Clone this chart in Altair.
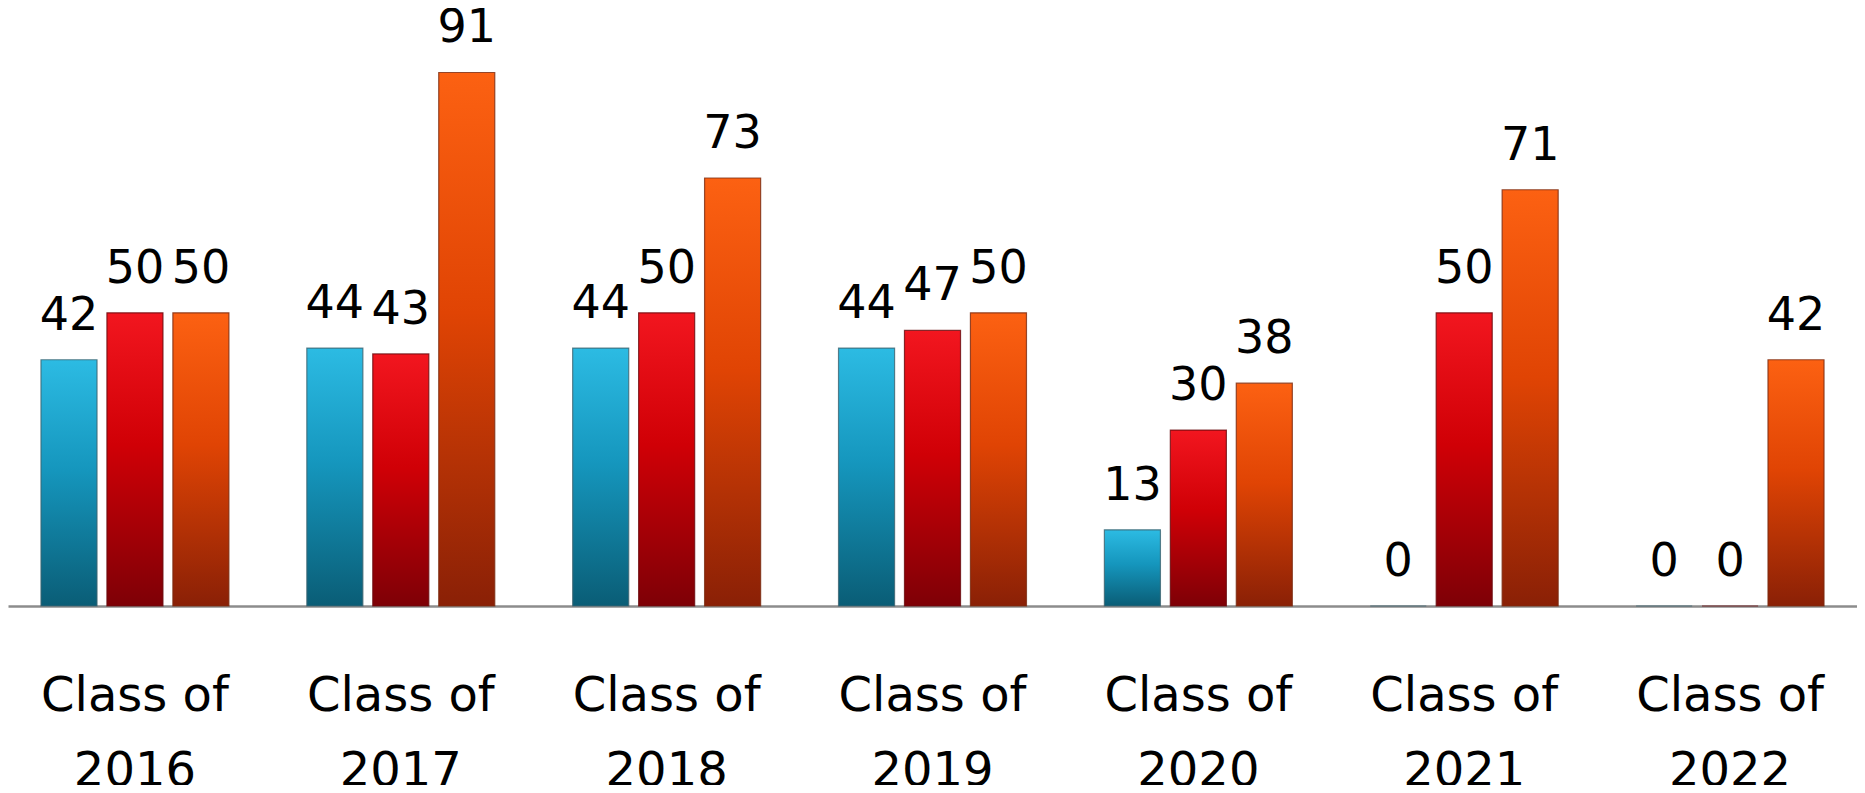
import altair as alt
import pandas as pd

classes = ["Class of 2016", "Class of 2017", "Class of 2018", "Class of 2019",
           "Class of 2020", "Class of 2021", "Class of 2022"]
series_names = ["Series 1", "Series 2", "Series 3"]
series1 = [42, 44, 44, 44, 13, 0, 0]
series2 = [50, 43, 50, 47, 30, 50, 0]
series3 = [50, 91, 73, 50, 38, 71, 42]

rows = []
for i, c in enumerate(classes):
    for s, vals in zip(series_names, [series1, series2, series3]):
        rows.append({"cls": c, "series": s, "value": vals[i]})
df = pd.DataFrame(rows)

grads = {
    "Series 1": (["#2cbbe3", "#1596bd", "#0a5d76"], "#3d6470"),
    "Series 2": (["#f2161f", "#d00006", "#7e0006"], "#6a0a0e"),
    "Series 3": (["#fc6112", "#e04404", "#8a2006"], "#7a2a10"),
}

FONT = "DejaVu Sans"

x_enc = alt.X("cls:N", sort=classes,
              scale=alt.Scale(paddingInner=0.293, paddingOuter=0.124),
              axis=alt.Axis(title=None,
                            labelExpr="[slice(datum.label, 0, 8), slice(datum.label, 9)]",
                            labelAngle=0, labelFont=FONT, labelFontSize=48,
                            labelColor="#000000", labelLineHeight=75,
                            labelBaseline="top", labelPadding=66, labelLimit=0,
                            ticks=False, domainColor="#8c8c8c", domainWidth=2.5,
                            grid=False))
off_enc = alt.XOffset("series:N", sort=series_names,
                      scale=alt.Scale(domain=series_names, paddingInner=0.15, paddingOuter=0))
y_enc = alt.Y("value:Q", scale=alt.Scale(domain=[0, 102], nice=False), axis=None)

layers = []
for s in series_names:
    stops, stroke = grads[s]
    g = alt.Gradient(gradient="linear", x1=0, y1=0, x2=0, y2=1,
                     stops=[alt.GradientStop(color=stops[0], offset=0),
                            alt.GradientStop(color=stops[1], offset=0.45),
                            alt.GradientStop(color=stops[2], offset=1)])
    layers.append(
        alt.Chart(df).transform_filter(alt.datum.series == s)
        .mark_bar(color=g, stroke=stroke, strokeWidth=1.2, strokeOpacity=0.8)
        .encode(x=x_enc, xOffset=off_enc, y=y_enc)
    )

text = alt.Chart(df).mark_text(font=FONT, fontSize=46, color="#000000",
                               baseline="alphabetic", dy=-30).encode(
    x=x_enc, xOffset=off_enc, y=y_enc, text=alt.Text("value:Q"))

chart = alt.layer(*layers, text).properties(
    width=1849, height=598,
    background="#ffffff",
    autosize=alt.AutoSizeParams(type="none"),
    padding={"left": 0, "top": 0, "right": 0, "bottom": 179},
).configure_view(stroke=None)

chart.save("out.html", embed_options={"renderer": "svg", "actions": False})
